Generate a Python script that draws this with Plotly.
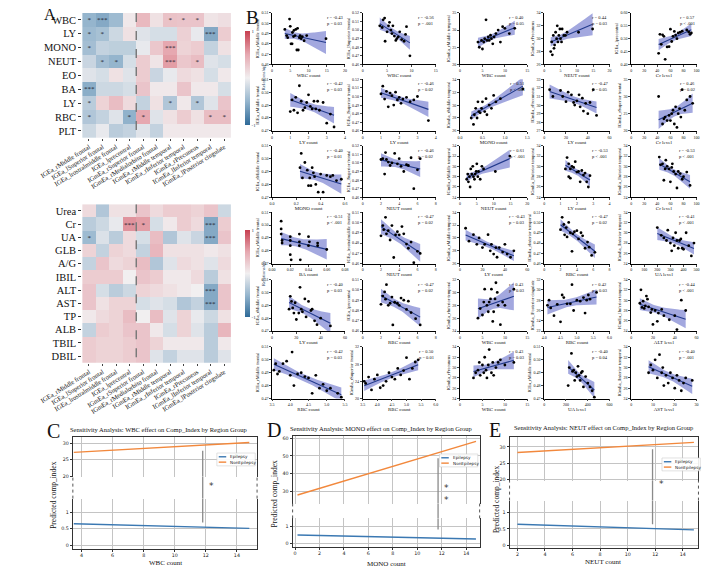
import numpy as np
import plotly.graph_objects as go

W, H = 709, 570
SERIF = "Liberation Serif, Times New Roman, serif"
SANS = "DejaVu Sans, Liberation Sans, sans-serif"

# ---------------- Panel A: heatmaps ----------------
HM_COLS = ["IGEa_rMiddle frontal", "IGEa_lSuperior frontal", "IGEa_lrostralmiddle frontal",
           "IGEa_lprecentral", "IGmEa_rSuperior frontal", "IGmEa_rMedialorbito frontal",
           "IGmEa_rMiddle temporal", "IGmEa_rInferior temporal", "IGmEa_rPrecuneus",
           "IGmEa_lInferior temporal", "IGmEa_lPosterior cingulate"]

HM1_ROWS = ["WBC", "LY", "MONO", "NEUT", "EO", "BA", "LY", "RBC", "PLT"]
HM1_VALUES = [
    [-0.50, -0.58, -0.45, 0.05, 0.38, 0.10, 0.32, 0.30, 0.30, 0.08, 0.12],
    [-0.45, -0.40, -0.20, 0.10, -0.10, -0.15, -0.15, 0.22, -0.05, -0.58, 0.25],
    [-0.42, -0.25, -0.28, -0.28, -0.05, 0.28, 0.50, 0.20, 0.25, -0.25, 0.10],
    [-0.22, -0.42, -0.50, -0.15, 0.25, 0.08, 0.55, 0.28, 0.35, -0.10, -0.15],
    [-0.10, -0.15, 0.10, -0.10, 0.25, -0.22, -0.05, 0.15, 0.10, -0.15, 0.05],
    [-0.55, -0.20, -0.20, -0.15, 0.30, 0.05, 0.05, 0.30, 0.05, 0.05, -0.15],
    [-0.30, 0.20, 0.35, 0.15, -0.25, 0.10, -0.35, 0.05, -0.35, -0.10, 0.30],
    [-0.35, -0.25, -0.10, -0.52, 0.50, -0.10, 0.10, 0.25, 0.10, 0.35, 0.35],
    [-0.20, -0.05, -0.30, -0.25, -0.10, -0.25, 0.05, 0.05, 0.05, 0.05, 0.05],
]
HM1_SIG = [
    ["*", "***", "", "", "", "", "*", "*", "*", "", ""],
    ["*", "*", "", "", "", "", "", "", "", "***", ""],
    ["*", "", "", "", "", "", "***", "", "", "", ""],
    ["", "*", "*", "", "", "", "***", "", "*", "", ""],
    ["", "", "", "", "", "", "", "", "", "", ""],
    ["***", "", "", "", "", "", "", "", "", "", ""],
    ["*", "", "", "", "", "", "*", "", "*", "", ""],
    ["*", "", "", "*", "*", "", "", "", "", "*", "*"],
    ["", "", "", "", "", "", "", "", "", "", ""],
]

HM2_ROWS = ["Urea", "Cr", "UA", "GLB", "A/G", "IBIL", "ALT", "AST", "TP", "ALB", "TBIL", "DBIL"]
HM2_VALUES = [
    [0.15, -0.35, 0.10, 0.10, 0.30, 0.15, 0.25, 0.25, 0.20, 0.30, -0.20],
    [-0.30, -0.20, -0.05, 0.60, 0.55, -0.15, 0.05, 0.25, 0.15, -0.58, 0.25],
    [-0.45, -0.12, -0.30, 0.15, -0.15, 0.35, -0.35, -0.10, -0.22, -0.58, 0.30],
    [0.20, -0.25, 0.20, 0.15, -0.25, 0.40, 0.10, 0.10, 0.10, 0.05, 0.10],
    [-0.25, 0.30, 0.15, 0.20, 0.35, -0.35, -0.10, 0.15, 0.10, -0.10, 0.15],
    [0.25, 0.25, 0.25, 0.00, 0.30, 0.25, 0.05, 0.05, 0.15, -0.30, 0.10],
    [0.30, -0.15, -0.30, -0.20, 0.20, 0.15, 0.10, 0.05, 0.00, -0.58, 0.30],
    [0.30, 0.10, 0.20, 0.20, -0.15, -0.10, -0.15, -0.35, -0.25, -0.58, 0.30],
    [0.05, 0.15, 0.20, 0.35, 0.00, 0.35, -0.10, 0.20, -0.05, -0.20, 0.10],
    [-0.25, 0.25, 0.20, 0.30, 0.30, 0.05, -0.15, 0.20, -0.10, -0.30, 0.40],
    [0.25, 0.20, 0.20, 0.25, 0.30, 0.20, 0.05, 0.05, 0.05, -0.30, 0.05],
    [0.25, 0.20, 0.20, 0.25, 0.30, -0.10, -0.25, -0.10, -0.10, -0.30, -0.10],
]
HM2_SIG = [
    ["", "", "", "", "", "", "", "", "", "", ""],
    ["", "", "", "***", "*", "", "", "", "", "***", ""],
    ["*", "", "", "", "", "", "", "", "", "***", ""],
    ["", "", "", "", "", "", "", "", "", "", ""],
    ["", "", "", "", "", "", "", "", "", "", ""],
    ["", "", "", "", "", "", "", "", "", "", ""],
    ["", "", "", "", "", "", "", "", "", "***", ""],
    ["", "", "", "", "", "", "", "", "", "***", ""],
    ["", "", "", "", "", "", "", "", "", "", ""],
    ["", "", "", "", "", "", "", "", "", "", ""],
    ["", "", "", "", "", "", "", "", "", "", ""],
    ["", "", "", "", "", "", "", "", "", "", ""],
]

# ---------------- Panel B: scatter data ----------------
SC01_X = [3.5, 4.0, 4.3, 4.8, 5.0, 5.2, 5.5, 5.6, 5.9, 6.0, 6.3, 6.5, 6.8, 7.0, 7.2, 7.5, 7.7, 8.0, 8.3, 8.8, 9.5, 14.8]
SC01_Y = [0.494, 0.488, 0.486, 0.504, 0.497, 0.480, 0.480, 0.491, 0.487, 0.493, 0.488, 0.494, 0.474, 0.495, 0.474, 0.486, 0.488, 0.485, 0.487, 0.483, 0.488, 0.485]
SC02_X = [3.5, 4.0, 4.2, 4.5, 4.6, 5.0, 5.3, 5.5, 5.8, 6.0, 6.2, 6.5, 6.8, 7.0, 7.3, 7.6, 8.0, 8.5, 8.8, 9.0, 9.7]
SC02_Y = [0.505, 0.503, 0.512, 0.514, 0.487, 0.498, 0.505, 0.509, 0.500, 0.496, 0.505, 0.493, 0.488, 0.490, 0.492, 0.498, 0.489, 0.487, 0.495, 0.504, 0.470]
SC03_X = [4.0, 4.3, 4.8, 5.0, 5.3, 5.5, 5.8, 6.0, 6.3, 6.5, 6.8, 7.0, 7.3, 7.6, 8.0, 8.5, 9.0, 9.5, 10.0, 11.0, 12.2]
SC03_Y = [26.5, 25.0, 27.0, 24.5, 26.5, 27.5, 33.0, 27.0, 28.0, 27.0, 28.5, 27.5, 26.0, 28.0, 29.0, 30.0, 26.5, 31.0, 30.5, 29.0, 30.5]
SC04_X = [2.0, 2.3, 2.5, 2.8, 3.0, 3.2, 3.5, 3.8, 4.0, 4.2, 4.5, 4.8, 5.0, 5.3, 5.5, 6.0, 6.5, 7.0, 10.5, 14.8]
SC04_Y = [28.0, 29.5, 27.5, 30.5, 28.5, 29.0, 31.0, 30.0, 32.0, 29.5, 30.5, 31.5, 30.0, 29.5, 31.5, 30.5, 30.5, 31.0, 31.0, 31.5]
SC05_X = [42, 44, 46, 48, 50, 52, 55, 58, 60, 62, 64, 66, 68, 70, 72, 75, 78, 85, 88, 90, 92]
SC05_Y = [0.443, 0.517, 0.478, 0.515, 0.509, 0.420, 0.468, 0.469, 0.537, 0.489, 0.509, 0.528, 0.514, 0.500, 0.522, 0.525, 0.529, 0.534, 0.526, 0.517, 0.522]
SC06_X = [1.0, 1.1, 1.2, 1.3, 1.4, 1.5, 1.6, 1.7, 1.8, 1.9, 2.0, 2.1, 2.2, 2.3, 2.4, 2.5, 2.6, 2.8, 3.0, 3.2, 3.4]
SC06_Y = [0.485, 0.494, 0.486, 0.496, 0.484, 0.505, 0.493, 0.486, 0.488, 0.492, 0.498, 0.489, 0.487, 0.493, 0.487, 0.493, 0.486, 0.492, 0.476, 0.483, 0.473]
SC07_X = [1.0, 1.1, 1.2, 1.3, 1.4, 1.5, 1.6, 1.7, 1.8, 1.9, 2.0, 2.1, 2.2, 2.4, 2.6, 2.8, 3.0, 3.6]
SC07_Y = [0.503, 0.512, 0.497, 0.506, 0.488, 0.504, 0.501, 0.490, 0.505, 0.496, 0.499, 0.492, 0.497, 0.499, 0.494, 0.496, 0.500, 0.472]
SC08_X = [0.25, 0.30, 0.32, 0.35, 0.38, 0.40, 0.42, 0.45, 0.48, 0.50, 0.55, 0.58, 0.60, 0.65, 0.70, 0.75, 0.80, 0.90, 1.40]
SC08_Y = [28.0, 27.0, 28.5, 29.5, 28.0, 30.5, 29.0, 28.8, 29.5, 30.5, 29.0, 31.0, 28.5, 30.0, 29.5, 31.5, 30.5, 31.0, 32.5]
SC09_X = [5, 8, 15, 17, 20, 22, 25, 27, 28, 30, 32, 33, 35, 36, 38, 40, 42, 45, 48]
SC09_Y = [31.8, 31.0, 31.7, 31.0, 30.4, 31.5, 31.2, 30.3, 30.0, 30.5, 31.2, 29.8, 30.8, 29.3, 30.2, 29.0, 30.3, 31.8, 28.8]
SC10_X = [42, 48, 50, 52, 55, 58, 60, 62, 64, 66, 68, 70, 72, 74, 76, 78, 82, 85, 90, 94]
SC10_Y = [30.0, 22.0, 23.5, 24.0, 23.0, 24.5, 23.0, 25.0, 26.0, 22.0, 27.0, 21.0, 25.0, 26.5, 24.0, 32.0, 26.0, 29.0, 30.0, 28.0]
SC11_X = [0.23, 0.24, 0.25, 0.27, 0.29, 0.30, 0.31, 0.32, 0.33, 0.34, 0.35, 0.36, 0.38, 0.40, 0.42, 0.45, 0.48, 0.50, 0.53, 0.57]
SC11_Y = [0.493, 0.504, 0.485, 0.497, 0.491, 0.479, 0.485, 0.479, 0.493, 0.489, 0.486, 0.480, 0.474, 0.488, 0.474, 0.487, 0.486, 0.487, 0.483, 0.484]
SC12_X = [2.0, 2.2, 2.4, 2.5, 2.6, 2.8, 3.0, 3.2, 3.5, 3.8, 4.0, 4.2, 4.5, 4.8, 5.0, 5.3, 5.6, 6.0, 6.3]
SC12_Y = [0.504, 0.505, 0.487, 0.512, 0.504, 0.501, 0.497, 0.500, 0.511, 0.499, 0.505, 0.496, 0.490, 0.498, 0.497, 0.506, 0.470, 0.492, 0.505]
SC13_X = [2.0, 2.3, 2.5, 2.8, 3.0, 3.2, 3.5, 3.8, 4.0, 4.3, 4.5, 4.8, 5.0, 5.3, 5.5, 6.0, 6.5, 7.0, 10.5, 14.8]
SC13_Y = [27.5, 28.5, 27.0, 28.0, 26.0, 29.5, 28.5, 30.0, 28.0, 27.5, 28.5, 29.0, 30.5, 28.0, 29.0, 27.5, 30.0, 29.5, 29.0, 32.0]
SC14_X = [1.3, 1.4, 1.5, 1.5, 1.6, 1.6, 1.7, 1.8, 1.9, 2.0, 2.1, 2.2, 2.3, 2.4, 2.5, 2.6, 2.7, 2.8]
SC14_Y = [29.5, 31.7, 28.0, 30.5, 27.7, 29.5, 30.0, 29.8, 30.9, 28.9, 29.0, 27.0, 29.2, 28.3, 28.7, 27.0, 26.0, 28.2]
SC15_X = [43, 45, 48, 50, 52, 53, 55, 58, 60, 62, 63, 65, 68, 70, 72, 75, 78, 80, 85, 90]
SC15_Y = [31.8, 30.3, 30.5, 27.3, 29.5, 31.2, 30.0, 29.5, 27.0, 29.8, 30.5, 29.0, 28.5, 25.8, 29.0, 28.6, 27.5, 28.0, 28.9, 26.3]
SC16_X = [0.010, 0.010, 0.010, 0.011, 0.011, 0.020, 0.020, 0.020, 0.020, 0.021, 0.030, 0.030, 0.030, 0.031, 0.040, 0.040, 0.041, 0.050, 0.050, 0.060]
SC16_Y = [0.503, 0.497, 0.493, 0.488, 0.486, 0.491, 0.488, 0.484, 0.477, 0.473, 0.493, 0.487, 0.484, 0.473, 0.491, 0.484, 0.487, 0.486, 0.484, 0.481]
SC17_X = [2.0, 2.2, 2.3, 2.5, 2.6, 2.8, 3.0, 3.2, 3.4, 3.6, 3.8, 4.0, 4.3, 4.5, 4.8, 5.0, 5.3, 5.6, 6.0, 6.3]
SC17_Y = [0.487, 0.497, 0.493, 0.505, 0.489, 0.492, 0.483, 0.497, 0.466, 0.488, 0.491, 0.488, 0.496, 0.489, 0.479, 0.475, 0.481, 0.461, 0.472, 0.470]
SC18_X = [5, 8, 12, 15, 17, 20, 22, 25, 27, 28, 30, 32, 33, 35, 38, 40, 42, 45, 48]
SC18_Y = [31.5, 29.5, 30.5, 29.0, 30.0, 28.5, 29.0, 30.5, 28.0, 29.0, 27.5, 28.5, 27.0, 28.5, 27.8, 29.0, 27.5, 27.0, 28.0]
SC19_X = [2.0, 2.2, 2.4, 2.5, 2.7, 2.8, 3.0, 3.2, 3.4, 3.5, 3.7, 4.0, 4.2, 4.5, 4.7, 5.0, 5.3, 5.5, 5.8, 6.2]
SC19_Y = [0.493, 0.505, 0.498, 0.488, 0.495, 0.486, 0.500, 0.490, 0.472, 0.489, 0.491, 0.492, 0.484, 0.490, 0.487, 0.475, 0.481, 0.476, 0.468, 0.471]
SC20_X = [200, 230, 250, 270, 280, 300, 310, 320, 330, 340, 350, 360, 370, 380, 390, 400, 420, 440, 460, 480]
SC20_Y = [31.0, 29.5, 29.0, 28.5, 30.5, 28.0, 26.5, 29.0, 27.5, 30.0, 28.5, 27.0, 28.5, 28.8, 27.0, 26.8, 30.0, 27.5, 25.5, 28.0]
SC21_X = [14, 15, 16, 17, 18, 19, 20, 22, 23, 24, 25, 27, 28, 30, 32, 33, 35, 37, 40, 48]
SC21_Y = [0.487, 0.497, 0.493, 0.488, 0.484, 0.492, 0.479, 0.484, 0.504, 0.487, 0.485, 0.495, 0.481, 0.493, 0.486, 0.487, 0.478, 0.475, 0.480, 0.474]
SC22_X = [2.0, 2.2, 2.4, 2.5, 2.6, 2.8, 3.0, 3.2, 3.3, 3.5, 3.8, 4.0, 4.2, 4.5, 4.8, 5.0, 5.3, 5.8, 6.3]
SC22_Y = [0.486, 0.494, 0.498, 0.491, 0.505, 0.485, 0.487, 0.493, 0.466, 0.488, 0.487, 0.485, 0.492, 0.490, 0.481, 0.489, 0.478, 0.472, 0.466]
SC23_X = [4.0, 4.5, 5.0, 5.3, 5.5, 6.0, 6.3, 6.5, 6.8, 7.0, 7.3, 7.5, 7.8, 8.0, 8.3, 8.5, 9.0, 9.5, 10.0, 12.0]
SC23_Y = [26.0, 27.5, 26.5, 28.5, 30.5, 28.0, 27.0, 28.5, 29.0, 30.5, 25.5, 27.0, 29.0, 31.5, 30.0, 28.0, 25.0, 28.5, 28.0, 30.5]
SC24_X = [4.10, 4.15, 4.20, 4.30, 4.40, 4.50, 4.55, 4.60, 4.70, 4.80, 4.85, 4.90, 5.00, 5.10, 5.20, 5.25, 5.30, 5.35, 5.40, 5.60]
SC24_Y = [27.0, 28.0, 26.5, 25.0, 27.2, 23.8, 29.0, 28.5, 27.3, 27.3, 31.0, 26.0, 28.0, 27.8, 28.5, 25.5, 28.0, 29.0, 28.2, 29.5]
SC25_X = [8, 9, 10, 11, 12, 13, 14, 15, 16, 18, 19, 20, 22, 24, 25, 28, 30, 35, 40, 42, 46, 50]
SC25_Y = [29.4, 32.0, 28.6, 29.8, 28.4, 28.9, 30.8, 30.2, 28.7, 27.6, 28.2, 25.3, 28.0, 25.9, 27.5, 28.2, 27.0, 26.2, 27.0, 24.3, 30.0, 28.0]
SC26_X = [3.55, 3.60, 3.65, 3.70, 3.80, 3.90, 4.00, 4.05, 4.10, 4.20, 4.30, 4.40, 4.50, 4.60, 4.70, 4.80, 4.90, 5.00, 5.10, 5.30, 5.40]
SC26_Y = [0.492, 0.497, 0.489, 0.491, 0.497, 0.499, 0.488, 0.506, 0.480, 0.489, 0.490, 0.487, 0.486, 0.474, 0.488, 0.478, 0.481, 0.476, 0.478, 0.474, 0.471]
SC27_X = [3.55, 3.60, 3.70, 3.80, 3.90, 4.00, 4.10, 4.20, 4.30, 4.40, 4.50, 4.60, 4.70, 4.80, 4.90, 5.00, 5.10, 5.20, 5.30, 5.40]
SC27_Y = [24.0, 23.5, 25.0, 22.0, 24.5, 25.5, 22.5, 23.0, 24.0, 26.0, 25.0, 24.5, 27.0, 25.5, 26.5, 29.5, 24.5, 27.0, 28.5, 29.0]
SC28_X = [3.0, 3.5, 4.0, 4.3, 4.5, 5.0, 5.3, 5.5, 5.8, 6.0, 6.3, 6.5, 7.0, 7.3, 7.5, 8.0, 8.5, 9.0, 10.0, 12.0]
SC28_Y = [28.0, 29.0, 29.5, 31.0, 28.5, 30.5, 29.0, 32.0, 29.5, 28.0, 30.5, 33.5, 29.0, 31.0, 28.5, 30.0, 31.0, 31.5, 30.5, 31.0]
SC29_X = [220, 230, 250, 260, 270, 280, 290, 300, 310, 320, 330, 340, 350, 360, 380, 400, 420, 440, 460]
SC29_Y = [0.480, 0.494, 0.505, 0.491, 0.492, 0.484, 0.490, 0.487, 0.495, 0.488, 0.484, 0.490, 0.491, 0.479, 0.487, 0.482, 0.479, 0.476, 0.471]
SC30_X = [8, 9, 10, 11, 12, 13, 14, 14.5, 15, 16, 17, 18, 19, 20, 21, 22, 23, 24, 25, 28]
SC30_Y = [29.0, 30.5, 29.5, 31.5, 28.0, 32.5, 29.0, 30.0, 26.5, 28.5, 27.0, 29.0, 28.0, 26.0, 28.5, 27.5, 25.5, 27.0, 28.0, 27.5]

SC_XLAB = ["WBC count", "WBC count", "WBC count", "NEUT count", "Cr level",
           "LY count", "LY count", "MONO count", "LY count", "Cr level",
           "MONO count", "NEUT count", "NEUT count", "LY count", "Cr level",
           "BA count", "NEUT count", "LY count", "RBC count", "UA level",
           "LY count", "RBC count", "WBC count", "RBC count", "ALT level",
           "RBC count", "RBC count", "WBC count", "UA level", "AST level"]
SC_YLAB = ["IGEa_rMiddle frontal", "IGEa_lSuperior frontal", "IGmEa_rMiddle temporal", "IGmEa_rPrecuneus", "IGEa_lprecentral",
           "IGEa_rMiddle frontal", "IGEa_lSuperior frontal", "IGmEa_rMiddle temporal", "IGmEa_rPrecuneus", "IGmEa_rSuperior frontal",
           "IGEa_rMiddle frontal", "IGEa_lSuperior frontal", "IGmEa_rMiddle temporal", "IGmEa_lInferior temporal", "IGmEa_lInferior temporal",
           "IGEa_rMiddle frontal", "IGEa_lrostralmiddle frontal", "IGmEa_rMiddle temporal", "IGmEa_rInferior temporal", "IGmEa_lInferior temporal",
           "IGEa_rMiddle frontal", "IGEa_lprecentral", "IGmEa_rInferior temporal", "IGmEa_lPosterior cingulate", "IGmEa_lInferior temporal",
           "IGEa_rMiddle frontal", "IGmEa_rSuperior frontal", "IGmEa_rPrecuneus", "IGEa_rMiddle frontal", "IGmEa_lInferior temporal"]
SC_R = ["-0.43", "-0.56", "0.40", "0.44", "0.57",
        "-0.42", "-0.46", "0.51", "-0.47", "0.46",
        "-0.40", "-0.46", "0.61", "-0.53", "-0.53",
        "-0.51", "-0.47", "-0.43", "-0.47", "-0.41",
        "-0.40", "-0.47", "0.43", "0.42", "-0.44",
        "-0.42", "0.50", "0.43", "-0.40", "-0.40"]
SC_P = ["= 0.03", "= .001", "= 0.05", "= 0.03", "< .001",
        "= 0.03", "= 0.02", "< .001", "= 0.05", "= 0.02",
        "= 0.01", "= 0.02", "< .001", "< .001", "< .001",
        "< .001", "= 0.02", "= 0.03", "= 0.02", "< .001",
        "= 0.03", "= 0.02", "= 0.03", "= 0.03", "< .001",
        "= 0.03", "= 0.01", "= 0.03", "= 0.04", "= .001"]
SC_XTICKS = [[0, 5, 10, 15, 20], [0, 5, 10, 15], [0, 5, 10, 15], [0, 5, 10, 15, 20], [0, 20, 40, 60, 80, 100],
             [0, 1, 2, 3, 4], [0, 1, 2, 3, 4], [0.0, 0.5, 1.0, 1.5], [0, 20, 40, 60], [0, 20, 40, 60, 80, 100],
             [0.0, 0.2, 0.4, 0.6], [0, 2, 4, 6, 8], [0, 5, 10, 15, 20], [0, 1, 2, 3, 4], [0, 20, 40, 60, 80, 100],
             [0.00, 0.02, 0.04, 0.06, 0.08], [0, 2, 4, 6, 8], [0, 20, 40, 60], [0, 2, 4, 6, 8], [0, 100, 200, 300, 400, 500],
             [0, 20, 40, 60], [0, 2, 4, 6, 8], [0, 5, 10, 15], [4.0, 4.5, 5.0, 5.5, 6.0], [0, 20, 40, 60],
             [3.5, 4.0, 4.5, 5.0, 5.5], [3.5, 4.0, 4.5, 5.0, 5.5, 6.0], [0, 5, 10, 15], [0, 200, 400, 600], [0, 10, 20, 30]]
SC_YTICKS = [[0.46, 0.47, 0.48, 0.49, 0.50, 0.51], [0.46, 0.47, 0.48, 0.49, 0.50, 0.51, 0.52], [20, 25, 30, 35], [26, 28, 30, 32, 34], [0.400, 0.450, 0.500, 0.550, 0.600],
             [0.47, 0.48, 0.49, 0.50, 0.51], [0.46, 0.47, 0.48, 0.49, 0.50, 0.51, 0.52], [26, 28, 30, 32, 34], [27, 28, 29, 30, 31, 32, 33], [20, 25, 30, 35],
             [0.47, 0.48, 0.49, 0.50, 0.51], [0.46, 0.47, 0.48, 0.49, 0.50, 0.51, 0.52], [24, 26, 28, 30, 32, 34], [24, 26, 28, 30, 32, 34], [24, 26, 28, 30, 32, 34],
             [0.47, 0.48, 0.49, 0.50, 0.51], [0.46, 0.47, 0.48, 0.49, 0.50, 0.51], [26, 28, 30, 32, 34], [0.46, 0.47, 0.48, 0.49, 0.50, 0.51], [24, 26, 28, 30, 32, 34],
             [0.47, 0.48, 0.49, 0.50, 0.51], [0.46, 0.47, 0.48, 0.49, 0.50, 0.51], [24, 26, 28, 30, 32], [22, 24, 26, 28, 30, 32], [24, 26, 28, 30, 32, 34],
             [0.47, 0.48, 0.49, 0.50, 0.51], [20, 24, 28, 32], [24, 26, 28, 30, 32, 34], [0.47, 0.48, 0.49, 0.50, 0.51], [24, 26, 28, 30, 32, 34]]

# ---------------- Panels C/D/E: sensitivity lines ----------------
SENS_TITLES = ["Sensitivity Analysis: WBC effect on Comp_Index by Region Group",
               "Sensitivity Analysis: MONO effect on Comp_Index by Region Group",
               "Sensitivity Analysis: NEUT effect on Comp_Index by Region Group"]
SENS_XLAB = ["WBC count", "MONO count", "NEUT count"]
C_X = [3.5, 14.8]
C_EPI = [0.65, 0.51]
C_NON = [27.2, 30.2]
D_X = [0.2, 14.8]
D_EPI = [0.49, 0.25]
D_NON = [27.8, 58.3]
E_X = [2.0, 14.8]
E_EPI = [0.64, 0.47]
E_NON = [28.3, 31.4]
SIG_X = [11.8, 11.7, 11.8]
SIG_TOP = [27.7, 48.7, 29.3]
SIG_BOT = [0.69, 0.81, 0.64]
SIG_LABEL = ["*", "*<br>*", "*"]
SENS_XTICKS = [[4, 6, 8, 10, 12, 14], [0, 2, 4, 6, 8, 10, 12, 14], [2, 4, 6, 8, 10, 12, 14]]
SENS_UPTICKS = [[20, 25, 30], [30, 40, 50, 60], [20, 25, 30]]
SENS_LOTICKS = [[0, 0.5, 1], [0, 1], [0, 0.5, 1]]
SERIES_NAMES = ["Epilepsy", "NonEpilepsy"]

# ---------------- build ----------------
def X(p):
    return p / W

def Y(p):
    return 1 - p / H

fig = go.Figure()
layout = {}
shapes = []
annos = []

CS = [[0, '#2e6a98'], [0.25, '#95b5cd'], [0.5, '#f1eff0'], [0.75, '#e6a8b0'], [1, '#c73f50']]

def add_heat(idx, z, sig, rows, top, bot, cbt, cbb):
    ax = '' if idx == 1 else str(idx)
    fig.add_trace(go.Heatmap(
        z=z, x=list(range(len(HM_COLS))), y=list(range(len(rows))),
        text=sig, texttemplate='%{text}',
        textfont=dict(size=7, color='#1b1b2f', family=SERIF),
        colorscale=CS, zmin=-1, zmax=1, xaxis='x' + ax, yaxis='y' + ax, hoverinfo='skip',
        colorbar=dict(x=X(206), xanchor='left', y=Y((cbt + cbb) / 2), yanchor='middle',
                      len=(cbb - cbt) / H, lenmode='fraction', thickness=5, outlinewidth=0,
                      tickvals=[-1, 1], ticktext=['-1', '1'], ticks='',
                      tickfont=dict(size=5, family=SERIF),
                      title=dict(text='Relationship', side='right', font=dict(size=5, family=SERIF)))))
    layout['xaxis' + ax] = dict(domain=[X(43), X(202)], anchor='y' + ax,
                                range=[-0.5, len(HM_COLS) - 0.5],
                                tickvals=list(range(len(HM_COLS))), ticktext=HM_COLS,
                                tickangle=-32, tickfont=dict(size=6.5, family=SERIF, color='#111'),
                                ticks='outside', ticklen=2, tickcolor='#444',
                                showgrid=False, zeroline=False, showline=False)
    layout['yaxis' + ax] = dict(domain=[Y(bot), Y(top)], anchor='x' + ax,
                                range=[len(rows) - 0.5, -0.5],
                                tickvals=list(range(len(rows))), ticktext=rows,
                                tickfont=dict(size=10.5, family=SERIF, color='#111'),
                                ticks='outside', ticklen=3, tickcolor='#333',
                                showgrid=False, zeroline=False, showline=False)
    shapes.append(dict(type='line', xref='x' + ax, yref='y' + ax, x0=3.5, x1=3.5,
                       y0=-0.5, y1=len(rows) - 0.5, line=dict(color='#7a7a7a', width=1.5, dash='dash')))

add_heat(1, HM1_VALUES, HM1_SIG, HM1_ROWS, 10, 136, 18, 133)
add_heat(2, HM2_VALUES, HM2_SIG, HM2_ROWS, 203, 363, 219, 327)

SC_X = [SC01_X, SC02_X, SC03_X, SC04_X, SC05_X, SC06_X, SC07_X, SC08_X, SC09_X, SC10_X,
        SC11_X, SC12_X, SC13_X, SC14_X, SC15_X, SC16_X, SC17_X, SC18_X, SC19_X, SC20_X,
        SC21_X, SC22_X, SC23_X, SC24_X, SC25_X, SC26_X, SC27_X, SC28_X, SC29_X, SC30_X]
SC_Y = [SC01_Y, SC02_Y, SC03_Y, SC04_Y, SC05_Y, SC06_Y, SC07_Y, SC08_Y, SC09_Y, SC10_Y,
        SC11_Y, SC12_Y, SC13_Y, SC14_Y, SC15_Y, SC16_Y, SC17_Y, SC18_Y, SC19_Y, SC20_Y,
        SC21_Y, SC22_Y, SC23_Y, SC24_Y, SC25_Y, SC26_Y, SC27_Y, SC28_Y, SC29_Y, SC30_Y]

COL_L = [246, 343, 447, 537, 630]
COL_W = [78, 78, 72, 70, 70]
ROW_T = [10, 77, 144, 211, 279, 347]
ROW_H = 52


def fit_band(x, y):
    x = np.asarray(x, float)
    y = np.asarray(y, float)
    n = len(x)
    b, a = np.polyfit(x, y, 1)
    xs = np.linspace(x.min(), x.max(), 40)
    yh = a + b * xs
    res = y - (a + b * x)
    s = np.sqrt(res @ res / (n - 2))
    sxx = ((x - x.mean()) ** 2).sum()
    se = s * np.sqrt(1.0 / n + (xs - x.mean()) ** 2 / sxx)
    t = 2.08
    return xs, yh, yh - t * se, yh + t * se


def fmt_ticks(ts):
    if all(float(t) == int(t) for t in ts) and max(abs(t) for t in ts) >= 1:
        return [str(int(t)) for t in ts]
    d = 1
    for t in ts:
        s = repr(float(t))
        d = max(d, len(s.split('.')[1]))
    return [f"{t:.{d}f}" for t in ts]


for i in range(30):
    r, c = divmod(i, 5)
    n = 3 + i
    xs_, ys_ = SC_X[i], SC_Y[i]
    bx, by, blo, bhi = fit_band(xs_, ys_)
    fig.add_trace(go.Scatter(x=list(bx) + list(bx[::-1]), y=list(bhi) + list(blo[::-1]),
                             fill='toself', fillcolor='rgba(88,96,196,0.55)', line=dict(width=0),
                             mode='lines', hoverinfo='skip', xaxis='x%d' % n, yaxis='y%d' % n))
    fig.add_trace(go.Scatter(x=bx, y=by, mode='lines', line=dict(color='#223a8c', width=1.1),
                             hoverinfo='skip', xaxis='x%d' % n, yaxis='y%d' % n))
    fig.add_trace(go.Scatter(x=xs_, y=ys_, mode='markers', marker=dict(color='black', size=2.8),
                             hoverinfo='skip', xaxis='x%d' % n, yaxis='y%d' % n, cliponaxis=False))
    xt, yt = SC_XTICKS[i], SC_YTICKS[i]
    L = COL_L[c]
    T = ROW_T[r]
    layout['xaxis%d' % n] = dict(domain=[X(L), X(L + COL_W[c])], anchor='y%d' % n,
                                 range=[xt[0], xt[-1]], tickvals=xt, ticktext=fmt_ticks(xt),
                                 ticks='outside', ticklen=2, tickwidth=0.6, showline=True,
                                 linecolor='black', linewidth=0.7, showgrid=False, zeroline=False,
                                 tickfont=dict(size=4, family=SERIF, color='#111'),
                                 title=dict(text=SC_XLAB[i], font=dict(size=5, family=SERIF, color='#111'), standoff=1))
    layout['yaxis%d' % n] = dict(domain=[Y(T + ROW_H), Y(T)], anchor='x%d' % n,
                                 range=[yt[0], yt[-1]], tickvals=yt, ticktext=fmt_ticks(yt),
                                 ticks='outside', ticklen=2, tickwidth=0.6, showline=True,
                                 linecolor='black', linewidth=0.7, showgrid=False, zeroline=False,
                                 tickfont=dict(size=4, family=SERIF, color='#111'),
                                 title=dict(text=SC_YLAB[i], font=dict(size=4.5, family=SERIF, color='#111'), standoff=1))
    annos.append(dict(xref='x%d domain' % n, yref='y%d domain' % n, x=1.0, y=1.0,
                      xanchor='right', yanchor='top', align='left', showarrow=False,
                      text='r = %s<br>p %s' % (SC_R[i], SC_P[i]),
                      font=dict(size=4.5, family=SERIF, color='#111')))

# sensitivity panels
SENS_GEOM = [
    dict(x0=33, x1=230, up=(438, 478), lo=(500, 551), xr=[3.44, 15.3], upr=[19.8, 31.8], lor=[-0.12, 1.41],
         title=(125, 430), ylab=(12, 496), xlab=(132, 565), leg=(187, 454), star_y=487, letter=(3, 419)),
    dict(x0=268, x1=468, up=(437, 505), lo=(520, 549), xr=[-0.2, 15.1], upr=[22.9, 61.3], lor=[-0.23, 1.47],
         title=(363, 429), ylab=(249, 495), xlab=(368, 566), leg=(425, 455), star_y=None, letter=(238, 418)),
    dict(x0=500, x1=702, up=(438, 482), lo=(502, 550), xr=[1.43, 15.13], upr=[19.6, 33.0], lor=[-0.08, 1.35],
         title=(600, 428), ylab=(486, 500), xlab=(600, 564), leg=(663, 459), star_y=485, letter=(476, 418)),
]
SENS_DATA = [(C_X, C_EPI, C_NON), (D_X, D_EPI, D_NON), (E_X, E_EPI, E_NON)]
BLUE = '#3a78b2'
ORANGE = '#f2883c'
GRID = '#c4c4c4'
FRAME = '#333333'

for k in range(3):
    g = SENS_GEOM[k]
    sx, sepi, snon = SENS_DATA[k]
    nu, nl = 33 + 2 * k, 34 + 2 * k
    fig.add_trace(go.Scatter(x=sx, y=snon, mode='lines', line=dict(color=ORANGE, width=1.4),
                             name=SERIES_NAMES[1], hoverinfo='skip', xaxis='x%d' % nu, yaxis='y%d' % nu))
    fig.add_trace(go.Scatter(x=sx, y=sepi, mode='lines', line=dict(color=BLUE, width=1.4),
                             name=SERIES_NAMES[0], hoverinfo='skip', xaxis='x%d' % nl, yaxis='y%d' % nl))
    xd = [X(g['x0']), X(g['x1'])]
    common_x = dict(domain=xd, range=g['xr'], tickvals=SENS_XTICKS[k], showgrid=True, gridcolor=GRID,
                    gridwidth=0.8, zeroline=False, showline=True, linecolor=FRAME, linewidth=1)
    layout['xaxis%d' % nu] = dict(common_x, anchor='y%d' % nu, side='top', showticklabels=False, ticks='')
    layout['xaxis%d' % nl] = dict(common_x, anchor='y%d' % nl, side='bottom', ticks='outside', ticklen=1.5,
                                  tickcolor=FRAME, tickfont=dict(size=4.8, family=SANS, color='#222'))
    layout['yaxis%d' % nu] = dict(domain=[Y(g['up'][1]), Y(g['up'][0])], anchor='x%d' % nu, range=g['upr'],
                                  tickvals=SENS_UPTICKS[k], showgrid=True, gridcolor=GRID, gridwidth=0.8,
                                  zeroline=False, showline=True, mirror=True, linecolor=FRAME, linewidth=1,
                                  ticks='outside', ticklen=2, tickcolor=FRAME,
                                  tickfont=dict(size=4.8, family=SANS, color='#222'))
    layout['yaxis%d' % nl] = dict(domain=[Y(g['lo'][1]), Y(g['lo'][0])], anchor='x%d' % nl, range=g['lor'],
                                  tickvals=SENS_LOTICKS[k], showgrid=True, gridcolor=GRID, gridwidth=0.8,
                                  zeroline=False, showline=True, mirror=True, linecolor=FRAME, linewidth=1,
                                  ticks='outside', ticklen=2, tickcolor=FRAME,
                                  tickfont=dict(size=4.8, family=SANS, color='#222'))
    for xe in (g['x0'], g['x1']):
        shapes.append(dict(type='line', xref='paper', yref='paper', x0=X(xe), x1=X(xe),
                           y0=Y(g['lo'][0]), y1=Y(g['up'][1]), line=dict(color='#555', width=1, dash='dot')))
    gl = dict(color='#8a8a8a', width=1.3)
    shapes.append(dict(type='line', xref='x%d' % nu, yref='y%d' % nu, x0=SIG_X[k], x1=SIG_X[k],
                       y0=SIG_TOP[k], y1=g['upr'][0], line=gl))
    shapes.append(dict(type='line', xref='x%d' % nl, yref='y%d' % nl, x0=SIG_X[k], x1=SIG_X[k],
                       y0=g['lor'][1], y1=SIG_BOT[k], line=gl))
    shapes.append(dict(type='line', xref='x%d' % nu, yref='paper', x0=SIG_X[k], x1=SIG_X[k],
                       y0=Y(g['lo'][0]), y1=Y(g['up'][1]), line=gl))
    if g['star_y'] is not None:
        annos.append(dict(xref='x%d' % nu, yref='paper', x=SIG_X[k] + 0.3, y=Y(g['star_y']),
                          text=SIG_LABEL[k], showarrow=False, xanchor='left', yanchor='middle',
                          font=dict(size=9, family=SANS, color='#333')))
    else:
        annos.append(dict(xref='x%d' % nu, yref='y%d' % nu, x=SIG_X[k] + 0.3, y=28.5,
                          text=SIG_LABEL[k], showarrow=False, xanchor='left', yanchor='middle',
                          font=dict(size=9, family=SANS, color='#333')))
    annos.append(dict(xref='paper', yref='paper', x=X(g['title'][0]), y=Y(g['title'][1]), text=SENS_TITLES[k],
                      showarrow=False, xanchor='center', yanchor='middle', font=dict(size=6.5, family=SERIF, color='#111')))
    annos.append(dict(xref='paper', yref='paper', x=X(g['ylab'][0]), y=Y(g['ylab'][1]), text='Predicted comp_index',
                      showarrow=False, textangle=-90, xanchor='center', yanchor='middle',
                      font=dict(size=7.5, family=SERIF, color='#111')))
    annos.append(dict(xref='paper', yref='paper', x=X(g['xlab'][0]), y=Y(g['xlab'][1]), text=SENS_XLAB[k],
                      showarrow=False, xanchor='center', yanchor='middle', font=dict(size=7, family=SERIF, color='#111')))
    lx, ly = g['leg']
    shapes.append(dict(type='rect', xref='paper', yref='paper', x0=X(lx), x1=X(lx + 41), y0=Y(ly + 13), y1=Y(ly),
                       line=dict(color='#cccccc', width=0.6), fillcolor='rgba(255,255,255,0.9)'))
    for j, (nm, col) in enumerate(zip(SERIES_NAMES, [BLUE, ORANGE])):
        yy = ly + 3.8 + j * 5.4
        shapes.append(dict(type='line', xref='paper', yref='paper', x0=X(lx + 2), x1=X(lx + 10),
                           y0=Y(yy), y1=Y(yy), line=dict(color=col, width=1.4)))
        annos.append(dict(xref='paper', yref='paper', x=X(lx + 12), y=Y(yy), text=nm, showarrow=False,
                          xanchor='left', yanchor='middle', font=dict(size=4.2, family=SANS, color='#222')))
    annos.append(dict(xref='paper', yref='paper', x=X(g['letter'][0]), y=Y(g['letter'][1]), text='CDE'[k],
                      showarrow=False, xanchor='left', yanchor='top', font=dict(size=20, family=SERIF, color='#111')))

annos.append(dict(xref='paper', yref='paper', x=X(0), y=Y(1), text='A', showarrow=False,
                  xanchor='left', yanchor='top', font=dict(size=16, family=SERIF, color='#111')))
annos.append(dict(xref='paper', yref='paper', x=X(216), y=Y(2), text='B', showarrow=False,
                  xanchor='left', yanchor='top', font=dict(size=19, family=SERIF, color='#111')))

fig.update_layout(width=W, height=H, margin=dict(l=0, r=0, t=0, b=0), paper_bgcolor='white',
                  plot_bgcolor='white', showlegend=False, font=dict(family=SERIF),
                  shapes=shapes, annotations=annos, **layout)
fig.write_html("out.html")
